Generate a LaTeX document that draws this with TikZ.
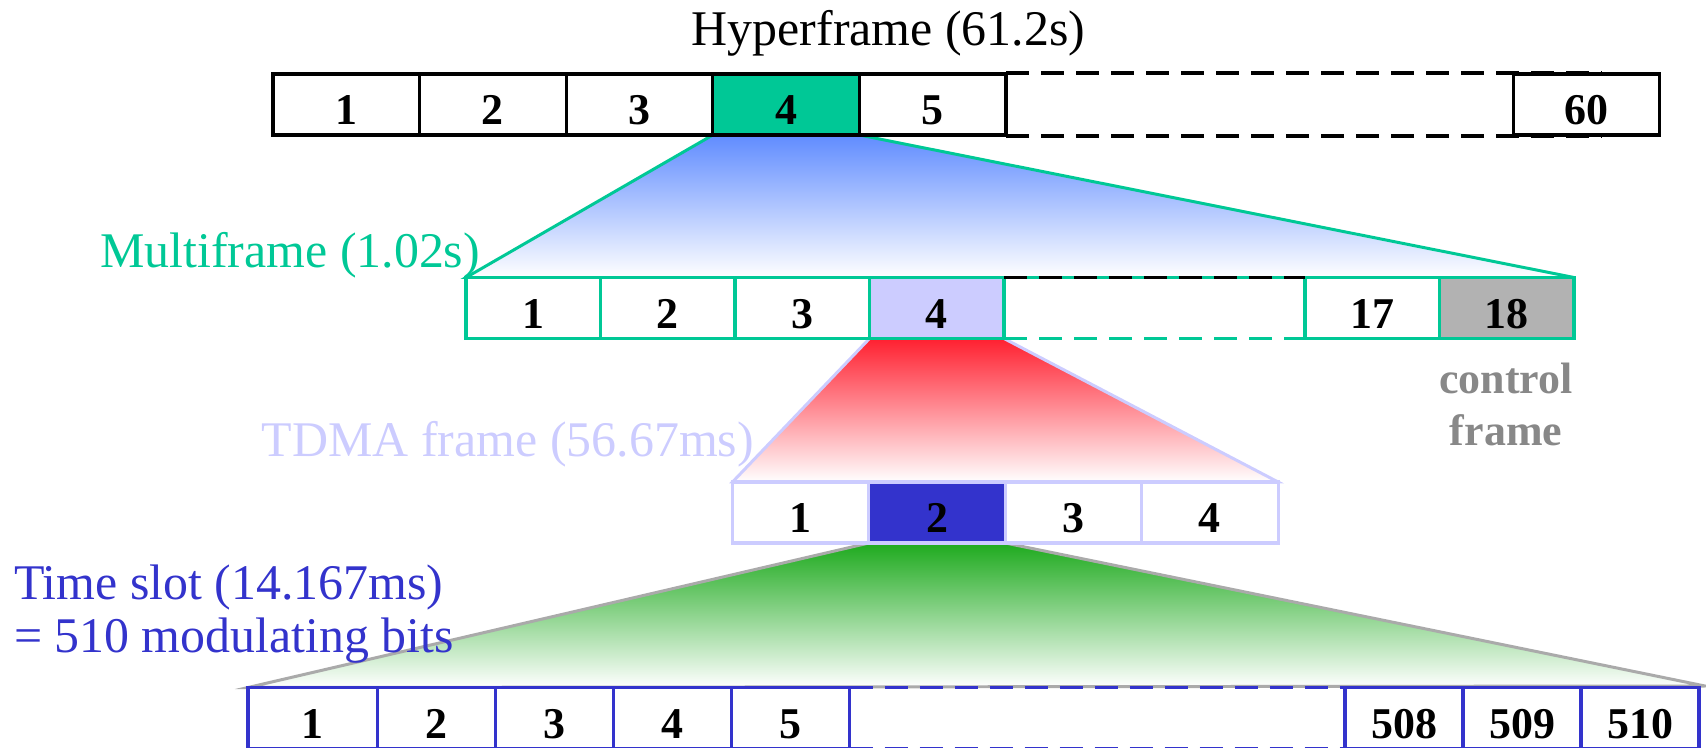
\documentclass[tikz,border=0pt]{standalone}
\usepackage{fontspec}
\setmainfont{Liberation Serif}
\usepackage{xcolor}
\definecolor{mfgreen}{RGB}{0,200,150}
\definecolor{tdmalav}{RGB}{204,204,255}
\definecolor{slotblue}{RGB}{51,51,204}
\definecolor{ctrlgray}{RGB}{178,178,178}
\definecolor{ctrltext}{RGB}{136,136,136}
\definecolor{fanblue}{RGB}{96,140,255}
\definecolor{fanred}{RGB}{255,32,48}
\definecolor{fangreen}{RGB}{30,170,30}
\definecolor{fanedge}{RGB}{170,170,170}
\usetikzlibrary{backgrounds}

\begin{document}
\begin{tikzpicture}[
  every node/.style={inner sep=0pt, outer sep=0pt},
  cell/.style={draw, fill=white, line width=0.9pt, minimum height=0.61cm,
    font=\fontsize{12.5}{15}\selectfont\bfseries, text height=11.6pt, text depth=0pt},
  hcell/.style={cell, draw=black, line width=0.9pt, minimum width=1.466cm},
  mcell/.style={cell, draw=mfgreen, minimum width=1.345cm},
  tcell/.style={cell, draw=tdmalav, minimum width=1.364cm},
  scell/.style={cell, draw=slotblue, minimum width=1.18cm},
  gapbox/.style={minimum height=0.61cm},
  gapline/.style={line width=1.1pt, dash pattern=on 0.23cm off 0.12cm},
  fanline/.style={line width=0.85pt},
  headtext/.style={font=\fontsize{14.2}{13.7}\selectfont}
]
\useasboundingbox (0,0) rectangle (17.06,-7.48);

% hyperframe
\node[headtext, anchor=base] (hyper) at (8.885,-0.46) {Hyperframe (61.2s)};
\node[hcell] (h1) at (3.463,-1.045) {1};
\node[hcell] (h2) at (4.929,-1.045) {2};
\node[hcell] (h3) at (6.395,-1.045) {3};
\node[hcell, fill=mfgreen] (h4) at (7.861,-1.045) {4};
\node[hcell] (h5) at (9.327,-1.045) {5};
\node[gapbox, minimum width=5.96cm, minimum height=0.63cm] (hgap) at (13.04,-1.045) {};
\node[hcell] (h60) at (15.865,-1.045) {60};
\draw[gapline] (hgap.north west) -- (hgap.north east);
\draw[gapline] (hgap.south west) -- (hgap.south east);

% multiframe
\node[headtext, text=mfgreen, anchor=base east] (multi) at (4.80,-2.68) {Multiframe (1.02s)};
\node[mcell] (m1) at (5.3325,-3.08) {1};
\node[mcell] (m2) at (6.6775,-3.08) {2};
\node[mcell] (m3) at (8.0225,-3.08) {3};
\node[mcell, fill=tdmalav] (m4) at (9.3675,-3.08) {4};
\node[gapbox, minimum width=3.01cm] (mgap) at (11.545,-3.08) {};
\node[mcell] (m17) at (13.7225,-3.08) {17};
\node[mcell, fill=ctrlgray] (m18) at (15.0675,-3.08) {18};
\draw[gapline] (mgap.north west) -- (mgap.north east);
\draw[gapline, mfgreen] (mgap.south west) -- (mgap.south east);
\node[font=\fontsize{12.5}{14.5}\selectfont\bfseries, text=ctrltext, align=center] (ctrl) at (15.06,-4.045) {control\\[0.5pt]frame};

% TDMA frame
\node[headtext, text=tdmalav, anchor=base east] (tdma) at (7.54,-4.56) {TDMA frame (56.67ms)};
\node[tcell] (t1) at (8.007,-5.125) {1};
\node[tcell, fill=slotblue] (t2) at (9.371,-5.125) {2};
\node[tcell] (t3) at (10.735,-5.125) {3};
\node[tcell] (t4) at (12.099,-5.125) {4};

% time slot
\node[headtext, text=slotblue, anchor=west, align=left] (slot) at (0.14,-6.14) {Time slot (14.167ms)\\[1.4pt]= 510 modulating bits};
\node[scell, minimum width=1.295cm] (s1) at (3.1275,-7.18) {1};
\node[scell] (s2) at (4.365,-7.18) {2};
\node[scell] (s3) at (5.545,-7.18) {3};
\node[scell] (s4) at (6.725,-7.18) {4};
\node[scell] (s5) at (7.905,-7.18) {5};
\node[gapbox, minimum width=4.955cm] (sgap) at (10.9725,-7.18) {};
\node[scell] (s508) at (14.04,-7.18) {508};
\node[scell] (s509) at (15.22,-7.18) {509};
\node[scell] (s510) at (16.40,-7.18) {510};
\draw[gapline, slotblue] (sgap.north west) -- (sgap.north east);
\draw[gapline, slotblue] (sgap.south west) -- (sgap.south east);
\coordinate (fanR) at (17.05,-6.86);

% zoom fans
\begin{scope}[on background layer]
  \shade[top color=fanblue, bottom color=white] (h4.south west) -- (h4.south east) -- (m18.north east) -- (m1.north west) -- cycle;
  \draw[fanline, mfgreen] (h4.south west) -- (m1.north west) -- (m18.north east) -- (h4.south east);
  \shade[top color=fanred, bottom color=white] (m4.south west) -- (m4.south east) -- (t4.north east) -- (t1.north west) -- cycle;
  \draw[fanline, tdmalav] (m4.south west) -- (t1.north west) -- (t4.north east) -- (m4.south east);
  \shade[top color=fangreen, bottom color=white] (t2.south west) -- (t2.south east) -- (fanR) -- (s1.north west) -- cycle;
  \draw[fanline, fanedge] (t2.south west) -- (s1.north west) -- (fanR) -- (t2.south east);
\end{scope}
\end{tikzpicture}
\end{document}
